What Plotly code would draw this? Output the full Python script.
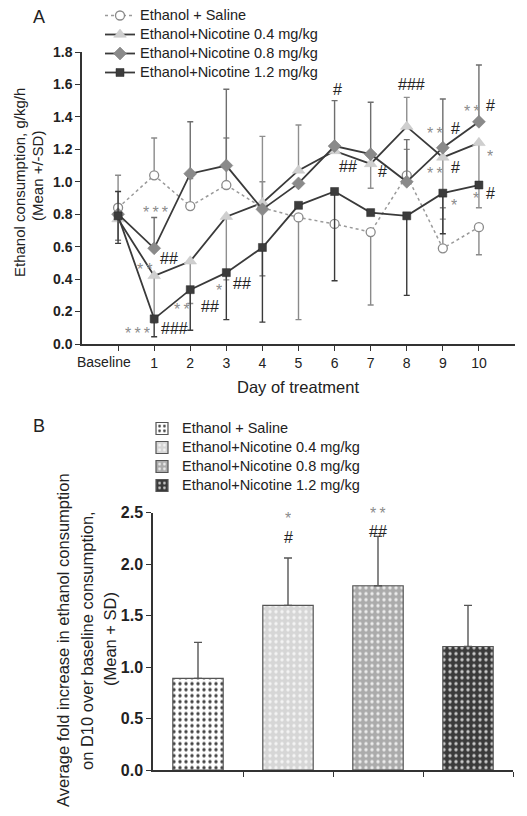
import plotly.graph_objects as go

# ---------------- Panel A data ----------------
days = [0, 1, 2, 3, 4, 5, 6, 7, 8, 9, 10]
day_labels = ["", "1", "2", "3", "4", "5", "6", "7", "8", "9", "10"]
baseline_label = "Baseline"

series_names = ["Ethanol + Saline", "Ethanol+Nicotine 0.4 mg/kg",
                "Ethanol+Nicotine 0.8 mg/kg", "Ethanol+Nicotine 1.2 mg/kg"]

saline_mean = [0.84, 1.04, 0.85, 0.98, 0.84, 0.78, 0.74, 0.69, 1.04, 0.59, 0.72]
saline_sd_up = [0.20, 0.23, 0.17, 0.29, 0.16, 0, 0, 0, 0.16, 0.25, 0]
saline_sd_down = [0.20, 0, 0, 0, 0, 0.63, 0, 0.45, 0, 0, 0.17]

nic04_mean = [0.77, 0.42, 0.51, 0.785, 0.87, 1.07, 1.19, 1.11, 1.34, 1.15, 1.24]
nic04_sd_up = [0, 0, 0, 0, 0.41, 0.28, 0, 0, 0.18, 0, 0]
nic04_sd_down = [0, 0.29, 0.26, 0.39, 0, 0, 0, 0.15, 0, 0.38, 0.40]

nic08_mean = [0.80, 0.59, 1.05, 1.10, 0.83, 0.99, 1.22, 1.17, 1.00, 1.21, 1.37]
nic08_sd_up = [0, 0.19, 0.32, 0.47, 0, 0, 0.28, 0.32, 0.26, 0.30, 0.35]
nic08_sd_down = [0, 0, 0, 0, 0.41, 0, 0, 0, 0, 0, 0]

nic12_mean = [0.79, 0.155, 0.335, 0.44, 0.595, 0.855, 0.94, 0.81, 0.79, 0.93, 0.98]
nic12_sd_up = [0.15, 0, 0, 0, 0, 0, 0, 0, 0, 0, 0]
nic12_sd_down = [0.17, 0.11, 0.25, 0.29, 0.46, 0, 0.55, 0, 0.49, 0.25, 0]

# significance marks panel A: text, day position, value level
sigA_text = ["***", "**", "##", "***", "###", "**", "##", "*", "##", "#", "##", "#", "###",
             "**", "#", "**", "#", "*", "**", "#", "*", "*", "#"]
sigA_x = [1.05, 0.75, 1.41, 0.55, 1.55, 1.77, 2.54, 2.79, 3.43, 6.08, 6.38, 7.32, 8.12,
          8.78, 9.34, 8.78, 9.34, 9.31, 9.81, 10.33, 10.30, 9.92, 10.33]
sigA_y = [0.83, 0.48, 0.53, 0.086, 0.097, 0.232, 0.234, 0.353, 0.374, 1.566, 1.097, 1.062, 1.597,
          1.32, 1.33, 1.073, 1.09, 0.877, 1.457, 1.47, 1.18, 0.918, 0.93]

# ---------------- Panel B data ----------------
b_groups = ["Ethanol + Saline", "Ethanol+Nicotine 0.4 mg/kg",
            "Ethanol+Nicotine 0.8 mg/kg", "Ethanol+Nicotine 1.2 mg/kg"]
b_mean = [0.89, 1.60, 1.79, 1.20]
b_sd = [0.35, 0.46, 0.48, 0.40]
sigB_text = ["*", "#", "**", "##"]
sigB_x = [1, 1, 2, 2]
sigB_y = [2.476, 2.26, 2.495, 2.315]
sigB_nudge = [0, 0, 3, 0]     # extra upward pixel nudge (top mark sits at the axis limit)

# ---------------- styling ----------------
FONT = "Arial, Liberation Sans, sans-serif"
AX = "#333333"
OFF = 8                      # page body margin
W, H = 527 - OFF, 816 - OFF


def px(x):
    return (x - OFF) / W


def py(y):
    return 1 - (y - OFF) / H


def legend_label(name):
    return '<span style="font-size:14.5px">' + name + '</span>'


fig = go.Figure()

styles = [
    dict(line=dict(color="#9a9a9a", width=1.5, dash="dot"),
         marker=dict(symbol="circle", size=9, color="white", line=dict(color="#8a8a8a", width=1.3)),
         err="#8a8a8a"),
    dict(line=dict(color="#3a3a3a", width=1.8),
         marker=dict(symbol="triangle-up", size=11, color="#cfcfcf", line=dict(color="#c4c4c4", width=0.5)),
         err="#8f8f8f"),
    dict(line=dict(color="#3a3a3a", width=1.8),
         marker=dict(symbol="diamond", size=10, color="#8a8a8a", line=dict(color="#7a7a7a", width=0.5)),
         err="#6e6e6e"),
    dict(line=dict(color="#3a3a3a", width=1.8),
         marker=dict(symbol="square", size=8, color="#3c3c3c", line=dict(color="#2a2a2a", width=0.5)),
         err="#3a3a3a"),
]
means = [saline_mean, nic04_mean, nic08_mean, nic12_mean]
ups = [saline_sd_up, nic04_sd_up, nic08_sd_up, nic12_sd_up]
downs = [saline_sd_down, nic04_sd_down, nic08_sd_down, nic12_sd_down]

for name, m, u, d, st in zip(series_names, means, ups, downs, styles):
    fig.add_trace(go.Scatter(
        x=days, y=m, name=legend_label(name), mode="lines+markers",
        line=st["line"], marker=st["marker"],
        error_y=dict(type="data", symmetric=False, array=u, arrayminus=d,
                     color=st["err"], thickness=1.4, width=3),
        xaxis="x", yaxis="y", legend="legend"))

bar_bg = ["#ffffff", "#d6d6d6", "#ababab", "#3a3a3a"]
bar_fg = ["#444444", "#f4f4f4", "#ececec", "#c8c8c8"]
for i, (g, m, s) in enumerate(zip(b_groups, b_mean, b_sd)):
    fig.add_trace(go.Bar(
        x=[i], y=[m], name=legend_label(g), width=0.56,
        marker=dict(color=bar_bg[i], line=dict(color="#555555", width=1.2),
                    pattern=dict(shape=".", bgcolor=bar_bg[i], fgcolor=bar_fg[i],
                                 size=6, solidity=0.25, fillmode="replace")),
        error_y=dict(type="data", symmetric=False, array=[s], arrayminus=[0],
                     color="#555555", thickness=1.4, width=4),
        xaxis="x2", yaxis="y2", legend="legend2"))


def sig_ann(t, x, y, xref, yref, nudge=0):
    star = "*" in t
    ann = dict(
        x=x, y=y, xref=xref, yref=yref, showarrow=False,
        xanchor="center", yanchor="middle",
        text="\u2009".join(t) if star else t,
        yshift=nudge,
        font=dict(family=FONT, size=16, color="#8c8c8c" if star else "#222222"))
    if star:
        # asterisk glyphs sit high in the line box: use a short box aligned to its top
        ann.update(height=12, valign="top", yshift=nudge - 1)
    return ann


annotations = []
for t, x, y in zip(sigA_text, sigA_x, sigA_y):
    annotations.append(sig_ann(t, x, y, "x", "y"))
for t, x, y, n in zip(sigB_text, sigB_x, sigB_y, sigB_nudge):
    annotations.append(sig_ann(t, x, y, "x2", "y2", n))


def paper_text(text, x, y, size, angle=0):
    return dict(x=px(x), y=py(y), xref="paper", yref="paper", text=text,
                showarrow=False, xanchor="center", yanchor="middle", textangle=angle,
                font=dict(family=FONT, size=size, color="#222"))


annotations += [
    # baseline category label sits left of its tick, as in the original
    dict(x=days[0] - 0.4, y=py(362), xref="x", yref="paper", text=baseline_label,
         showarrow=False, xanchor="center", yanchor="middle",
         font=dict(family=FONT, size=14, color="#222")),
    paper_text("A", 39, 17, 18),
    paper_text("B", 39, 426, 18),
    paper_text("Ethanol consumption, g/kg/h", 20, 183, 15, -90),
    paper_text("(Mean +/-SD)", 38, 176, 15, -90),
    paper_text("Day of treatment", 298, 387, 16.5),
    paper_text("Average fold increase in ethanol consumption", 63, 640, 16.5, -90),
    paper_text("on D10 over baseline consumption,", 87, 641, 16.5, -90),
    paper_text("(Mean + SD)", 110, 639, 16.5, -90),
]

axis_common = dict(showline=True, linecolor=AX, linewidth=1.5, ticks="outside",
                   tickcolor=AX, tickwidth=1.3, ticklen=5, showgrid=False, zeroline=False,
                   automargin=False)

fig.update_layout(
    width=W, height=H,
    margin=dict(l=0, r=0, t=0, b=0, autoexpand=False),
    paper_bgcolor="white", plot_bgcolor="white",
    font=dict(family=FONT, size=13, color="#222"),
    barmode="overlay",
    xaxis=dict(domain=[px(82), px(515)], range=[-1, 11], anchor="y",
               tickvals=days, ticktext=day_labels, tickangle=0,
               tickfont=dict(family=FONT, size=14, color="#222"), **axis_common),
    yaxis=dict(domain=[py(344), py(52)], range=[0, 1.8], anchor="x",
               tickvals=[0, 0.2, 0.4, 0.6, 0.8, 1.0, 1.2, 1.4, 1.6, 1.8],
               tickformat=".1f",
               tickfont=dict(family=FONT, size=14, color="#222", weight="bold"),
               **axis_common),
    xaxis2=dict(domain=[px(153), px(513)], range=[-0.5, 3.5], anchor="y2",
                tickvals=[0.5, 1.5, 2.5, 3.5], ticktext=["", "", "", ""], tickangle=0,
                **axis_common),
    yaxis2=dict(domain=[py(770), py(512.7)], range=[0, 2.5], anchor="x2",
                tickvals=[0, 0.5, 1.0, 1.5, 2.0, 2.5], tickformat=".1f",
                tickfont=dict(family=FONT, size=16, color="#222", weight="bold"),
                **axis_common),
    legend=dict(x=px(100), y=py(1), xanchor="left", yanchor="top",
                bgcolor="rgba(0,0,0,0)", font=dict(family=FONT, size=12, color="#222"),
                tracegroupgap=0),
    legend2=dict(x=px(142), y=py(414), xanchor="left", yanchor="top",
                 bgcolor="rgba(0,0,0,0)", font=dict(family=FONT, size=12, color="#222"),
                 tracegroupgap=0),
    annotations=annotations,
    showlegend=True,
)

fig.write_html("out.html")
